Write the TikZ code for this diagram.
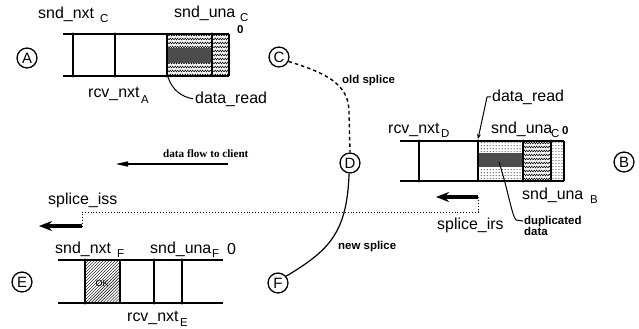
\documentclass[tikz,border=0pt]{standalone}
\usepackage{fontspec}
\setmainfont{Liberation Sans}
\newfontfamily\serifb{Liberation Serif}
\usetikzlibrary{patterns,arrows.meta}
\pgfdeclarepatternformonly{wavy}{\pgfpointorigin}{\pgfpoint{5pt}{4pt}}{\pgfpoint{5pt}{4pt}}{%
 \pgfsetlinewidth{0.5pt}%
 \pgfpathmoveto{\pgfpoint{0pt}{1pt}}%
 \pgfpathlineto{\pgfpoint{1.25pt}{3pt}}%
 \pgfpathlineto{\pgfpoint{2.5pt}{1pt}}%
 \pgfpathlineto{\pgfpoint{3.75pt}{3pt}}%
 \pgfpathlineto{\pgfpoint{5pt}{1pt}}%
 \pgfusepath{stroke}}
\begin{document}
\begin{tikzpicture}[x=1bp,y=-1bp,
  lab/.style={font=\fontsize{16}{16}\selectfont, inner sep=0pt, anchor=base west},
  sub/.style={font=\fontsize{11.5}{11.5}\selectfont, inner sep=0pt, anchor=base west},
  small/.style={font=\bfseries\fontsize{11.5}{11.5}\selectfont, inner sep=0pt, anchor=base west},
  circ/.style={circle, draw, line width=1.3pt, minimum size=20pt, inner sep=0pt, font=\fontsize{15}{15}\selectfont},
  hline/.style={line width=1.9pt},
  vline/.style={line width=1.1pt},
  dot/.style={circle, fill, inner sep=0pt, minimum size=3.4pt},
  leader/.style={line width=1pt},
  fatarrow/.style={line width=3.6pt, -{Stealth[length=13pt,width=10pt]}},
  dotline/.style={line width=0.9pt, dotted},
  dashline/.style={line width=1.4pt, dash pattern=on 3.5pt off 3pt}]
\useasboundingbox (0,0) rectangle (639,328);

% ---------- Box A ----------
\fill[pattern=wavy] (167,34) rectangle (229,76);
\fill[black!70] (167,48) rectangle (212,63);
\draw[hline] (63,34) -- (229,34);
\draw[hline] (63,76) -- (229,76);
\foreach \x in {73,115,167,212,229} \draw[vline] (\x,34) -- (\x,76);
\foreach \x in {73,115,212} \node[dot] at (\x,34) {};
\foreach \x in {73,115,167} \node[dot] at (\x,76) {};

\node[circ] (A) at (27,58) {A};
\node[lab] (snA) at (38,18) {snd\_nxt};
\node[sub] (snAc) at (100,22) {C};
\node[lab] (suA) at (174,17) {snd\_una};
\node[sub] (suAc) at (240,21) {C};
\node[sub] (suA0) at (237,33) {\bfseries 0};
\node[lab] (rnA) at (88,97) {rcv\_nxt};
\node[sub] (rnAa) at (141,103) {A};
\node[lab] (drA) at (195,103) {data\_read};
\coordinate (zzA) at (168,77);
\draw[leader] (zzA) .. controls (172,90) and (182,97) .. ([xshift=-2pt]drA.west);

% ---------- Box B ----------
\fill[pattern=dots] (478,141) rectangle (523,181);
\fill[black!70] (478,153) rectangle (523,167);
\fill[pattern=wavy] (523,141) rectangle (551,181);
\fill[pattern=dots] (551,141) rectangle (564,181);
\draw[hline] (400,141) -- (564,141);
\draw[hline] (400,181) -- (564,181);
\foreach \x in {419,478,523,551,564} \draw[vline] (\x,141) -- (\x,181);
\foreach \x in {419,478,523,551} \node[dot] at (\x,141) {};
\foreach \x in {419,523} \node[dot] at (\x,181) {};

\node[circ] (B) at (624,162) {B};
\node[lab] (rnB) at (388,133) {rcv\_nxt};
\node[sub] (rnBd) at (441,137) {D};
\node[lab] (suB) at (491,133) {snd\_una};
\node[sub] (suBc) at (551,137) {C};
\node[sub] (suB0) at (562,134) {\bfseries 0};
\node[lab] (drB) at (492,101) {data\_read};
\coordinate (drBtip) at (478,139);
\draw[leader, -{Stealth[length=5pt,width=4pt]}] ([xshift=-1pt]drB.west) -- (487,97) -- (drBtip);
\node[lab] (suBb) at (522,199) {snd\_una};
\node[sub] (suBbb) at (590,203) {B};
\node[small] (dup1) at (524,224) {duplicated};
\node[small] (dup2) at (524,235) {data};
\coordinate (dupS) at (499,162);
\draw[leader] (dupS) .. controls (508,190) and (512,216) .. (516,220) -- ([xshift=-1pt]dup1.west);

% ---------- splice arrows ----------
\node[lab] (irs) at (437,229) {splice\_irs};
\coordinate (irsT) at (478,197);
\coordinate (irsH) at (436,197);
\draw[fatarrow] (irsT) -- (irsH);
\coordinate (issT) at (82,226);
\coordinate (issH) at (39,226);
\draw[dotline] (irsT) -- (478,212) -- (82,212) -- (issT);
\draw[fatarrow] (issT) -- (issH);
\node[lab] (iss) at (48,204) {splice\_iss};

% data flow arrow
\coordinate (dfT) at (228,164);
\coordinate (dfH) at (116,164);
\draw[line width=2.6pt, -{Stealth[length=26pt,width=12pt,inset=14pt]}] (dfT) -- (dfH);
\node[inner sep=0pt, anchor=base west, font=\serifb\bfseries\fontsize{11.2}{11.2}\selectfont] (df) at (163,157) {data flow to client};

% ---------- C, D, F and splices ----------
\node[circ] (C) at (279,57) {C};
\node[circ] (D) at (350,163) {D};
\node[circ] (F) at (278,283) {F};
\draw[dashline] (C.-25) .. controls (326,73) and (349,84) .. (349,112) -- (D.north);
\node[small] (olds) at (342,83) {old splice};
\draw[line width=1.2pt] (D.-95) .. controls (347,232) and (330,250) .. (F.40);
\node[small] (news) at (338,249) {new splice};

% ---------- Box E ----------
\fill[pattern=north east lines] (85,260) rectangle (120,303);
\draw[hline] (58,260) -- (223,260);
\draw[hline] (58,303) -- (223,303);
\foreach \x in {85,120,154,182} \draw[vline] (\x,260) -- (\x,303);
\foreach \x in {85,154,182} {\node[dot] at (\x,260) {}; \node[dot] at (\x,303) {};}
\node[inner sep=0pt, font=\fontsize{9}{9}\selectfont] (ok) at (102,283) {OK};

\node[circ] (E) at (22,282) {E};
\node[lab] (snE) at (55,253) {snd\_nxt};
\node[sub] (snEf) at (117,257) {F};
\node[lab] (suE) at (150,253) {snd\_una};
\node[sub] (suEf) at (212,257) {F};
\node[lab] (suE0) at (227,254) {0};
\node[lab] (rnE) at (127,321) {rcv\_nxt};
\node[sub] (rnEe) at (180,326) {E};
\end{tikzpicture}
\end{document}
